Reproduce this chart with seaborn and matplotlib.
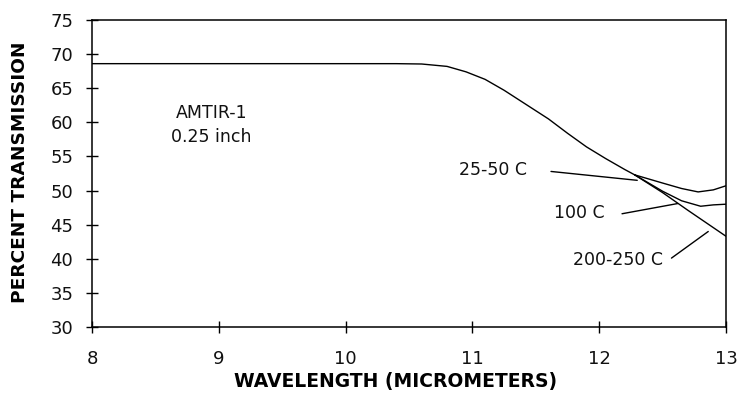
import matplotlib
matplotlib.use("Agg")
import matplotlib.pyplot as plt
import seaborn as sns
import pandas as pd

# ── data ────────────────────────────────────────────────────
base_wl = [8.0, 10.4, 10.6, 10.8, 10.95, 11.1, 11.25, 11.4, 11.6, 11.75,
           11.9, 12.05, 12.2, 12.28]
base_tr = [68.6, 68.6, 68.55, 68.2, 67.4, 66.3, 64.7, 62.9, 60.5, 58.4,
           56.4, 54.7, 53.1, 52.3]

wl_25_50 = [12.28, 12.5, 12.65, 12.78, 12.9, 13.0]
tr_25_50 = [52.3, 51.1, 50.3, 49.8, 50.1, 50.7]

wl_100 = [12.28, 12.5, 12.65, 12.8, 12.9, 13.0]
tr_100 = [52.3, 49.9, 48.5, 47.7, 47.9, 48.0]

wl_200_250 = [12.28, 12.5, 12.7, 12.85, 13.0]
tr_200_250 = [52.3, 49.7, 47.1, 45.2, 43.3]

# labels: text, x of right edge, y, leader line ends
curve_labels = ["25-50 C", "100 C", "200-250 C"]
label_x = [11.43, 12.04, 12.50]
label_y = [53.0, 46.65, 39.8]
leader_x = [[11.62, 12.3], [12.18, 12.62], [12.57, 12.86]]
leader_y = [[52.8, 51.5], [46.6, 48.1], [40.1, 44.0]]

x_ticks = [8, 9, 10, 11, 12, 13]
y_ticks = list(range(30, 80, 5))

sns.set_theme(style="ticks")
plt.rcParams["font.family"] = ["DejaVu Sans"]

fig = plt.figure(figsize=(7.4, 3.98), dpi=100, facecolor="white")
ax = fig.add_axes([92 / 740, 1 - 327 / 398, (726 - 92) / 740, (327 - 20) / 398])

series = [(base_wl, base_tr), (wl_25_50, tr_25_50), (wl_100, tr_100),
          (wl_200_250, tr_200_250)]
for xs, ys in series:
    df = pd.DataFrame({"wl": xs, "tr": ys})
    sns.lineplot(data=df, x="wl", y="tr", ax=ax, color="black", lw=1.0,
                 estimator=None, sort=False)

# leader lines + curve labels
for txt, tx, ty, lx, ly in zip(curve_labels, label_x, label_y, leader_x, leader_y):
    ax.plot(lx, ly, color="black", lw=1.0)
    ax.text(tx, ty, txt, ha="right", va="center", fontsize=12.5, color="#111111")

ax.text(8.94, 61.3, "AMTIR-1", ha="center", va="center", fontsize=12.5, color="#111111")
ax.text(8.94, 57.8, "0.25 inch", ha="center", va="center", fontsize=12.5, color="#111111")

ax.set_xlim(8, 13)
ax.set_ylim(30, 75)
ax.set_xticks(x_ticks)
ax.set_yticks(y_ticks)
ax.tick_params(direction="inout", length=8, width=1.0, labelsize=13,
               colors="black", labelcolor="#111111")
ax.tick_params(axis="x", pad=12.5)
ax.tick_params(axis="y", pad=9.5)
for sp in ax.spines.values():
    sp.set_color("black")
    sp.set_linewidth(1.1)

ax.set_xlabel("")
ax.set_ylabel("")
fig.text(396 / 740, 1 - 381 / 398, "WAVELENGTH (MICROMETERS)", ha="center", va="center",
         fontsize=13.5, fontweight="bold", color="black")
fig.text(20 / 740, 1 - 172 / 398, "PERCENT TRANSMISSION", ha="center", va="center",
         rotation=90, fontsize=13.3, fontweight="bold", color="black")

fig.savefig("out.png", dpi=100, facecolor="white")
